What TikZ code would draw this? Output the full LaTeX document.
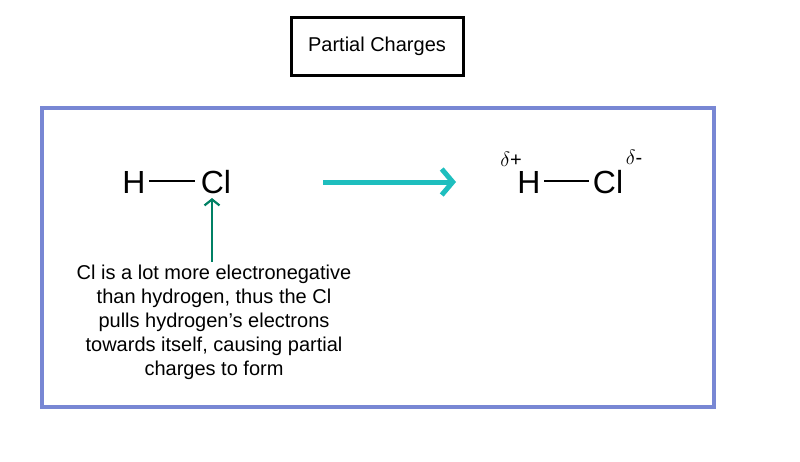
\documentclass[tikz,border=0pt]{standalone}
\usepackage{fontspec}
\setmainfont{Liberation Sans}
\usetikzlibrary{arrows.meta}
\begin{document}
\begin{tikzpicture}[x=1pt,y=-1pt,
  atom/.style={font=\fontsize{32}{32}\selectfont, inner sep=0pt, anchor=base},
  bond/.style={line width=1.6pt},
  delta/.style={font=\fontsize{20}{20}\selectfont, inner sep=0pt}]
\useasboundingbox (0,0) rectangle (800,461);
\node[draw, line width=3pt, minimum width=172pt, minimum height=58pt, font=\fontsize{20}{20}\selectfont] (title) at (377,46) {Partial Charges};
\draw[line width=4pt, color={rgb,255:red,120;green,135;blue,212}] (42,108) rectangle (714,407);
\node[atom] (h1) at (134,193) {H};
\node[atom] (c1) at (216,193) {Cl};
\draw[bond] (149,181) -- (195,181);
\node[atom] (h2) at (529,193) {H};
\node[atom] (c2) at (608,193) {Cl};
\draw[bond] (544,181) -- (589,181);
\node[delta] (dp) at (511,159) {$\delta$+};
\node[delta] (dm) at (634,157) {$\delta$-};
\coordinate (a1) at (323,182);
\coordinate (a2) at (456,182);
\draw[line width=5pt, color={rgb,255:red,30;green,190;blue,190}, -{Straight Barb[length=11pt,width=26pt,line width=5pt]}] (a1) -- (a2);
\node[align=center, font=\fontsize{20}{24}\selectfont, inner sep=0pt] (txt) at (214,322) {Cl is a lot more electronegative\\than hydrogen, thus the Cl\\pulls hydrogen’s electrons\\towards itself, causing partial\\charges to form};
\coordinate (g1) at (212,262);
\coordinate (g2) at (212,198);
\draw[line width=2.2pt, color={rgb,255:red,0;green,128;blue,100}, -{Straight Barb[length=6pt,width=15pt,line width=2.2pt]}] (g1) -- (g2);
\end{tikzpicture}
\end{document}
